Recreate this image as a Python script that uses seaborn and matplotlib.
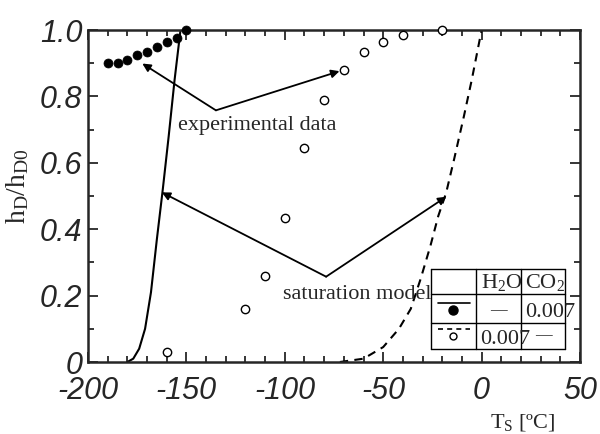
import matplotlib
matplotlib.use("Agg")
import matplotlib.pyplot as plt
import pandas as pd
import seaborn as sns
from matplotlib.ticker import MultipleLocator, FixedLocator, FixedFormatter
from matplotlib.lines import Line2D

# measured dimensionless heat of desublimation vs. surface temperature
t_co2 = [-190, -185, -180, -175, -170, -165, -160, -155, -150]
h_co2 = [0.90, 0.90, 0.91, 0.925, 0.935, 0.95, 0.965, 0.975, 1.0]
t_h2o = [-160, -120, -110, -100, -90, -80, -70, -60, -50, -40, -20]
h_h2o = [0.03, 0.16, 0.26, 0.435, 0.645, 0.79, 0.88, 0.935, 0.965, 0.985, 1.0]

# saturation model curves
t_model_co2 = [-180, -177, -174, -171, -168, -165, -162, -159, -156, -153]
h_model_co2 = [0.0, 0.01, 0.04, 0.10, 0.21, 0.37, 0.52, 0.68, 0.85, 1.0]
t_model_h2o = [-72, -60, -50, -42, -36, -31, -26, -22, -18, -14, -9, -5, 0]
h_model_h2o = [0.0, 0.01, 0.045, 0.10, 0.16, 0.25, 0.35, 0.44, 0.51, 0.61, 0.74, 0.85, 1.0]

x_ticks = [-200, -150, -100, -50, 0, 50]
x_tick_labels = ["-200", "-150", "-100", "-50", "0", "50"]
y_ticks = [0, 0.2, 0.4, 0.6, 0.8, 1.0]
y_tick_labels = ["0", "0.2", "0.4", "0.6", "0.8", "1.0"]

sns.set_style("ticks", {"xtick.direction": "in", "ytick.direction": "in"})
plt.rcParams["font.family"] = ["Liberation Serif", "DejaVu Serif"]
plt.rcParams["mathtext.fontset"] = "custom"
plt.rcParams["mathtext.rm"] = "Liberation Serif"
plt.rcParams["mathtext.it"] = "Liberation Serif:italic"

fig, ax = plt.subplots(figsize=(6.0, 4.34), dpi=100)
fig.subplots_adjust(left=88 / 600, right=580 / 600, bottom=1 - 362 / 434, top=1 - 30 / 434)

df_model_co2 = pd.DataFrame({"T": t_model_co2, "h": h_model_co2})
df_model_h2o = pd.DataFrame({"T": t_model_h2o, "h": h_model_h2o})
df_co2 = pd.DataFrame({"T": t_co2, "h": h_co2})
df_h2o = pd.DataFrame({"T": t_h2o, "h": h_h2o})

sns.lineplot(data=df_model_co2, x="T", y="h", ax=ax, color="black", lw=1.5,
             sort=False, estimator=None)
sns.lineplot(data=df_model_h2o, x="T", y="h", ax=ax, color="black", lw=1.5,
             sort=False, estimator=None, dashes=False, linestyle=(0, (4, 3)))
sns.scatterplot(data=df_co2, x="T", y="h", ax=ax, color="black", s=42,
                edgecolor="black", linewidth=0.5, clip_on=False, zorder=4)
sns.scatterplot(data=df_h2o, x="T", y="h", ax=ax, facecolor="white", s=36,
                edgecolor="black", linewidth=1.0, clip_on=False, zorder=4)

ax.set_xlim(-200, 50)
ax.set_ylim(0, 1)
ax.xaxis.set_major_locator(FixedLocator(x_ticks))
ax.xaxis.set_major_formatter(FixedFormatter(x_tick_labels))
ax.xaxis.set_minor_locator(MultipleLocator(10))
ax.yaxis.set_major_locator(FixedLocator(y_ticks))
ax.yaxis.set_major_formatter(FixedFormatter(y_tick_labels))
ax.yaxis.set_minor_locator(MultipleLocator(0.1))
ax.tick_params(which="both", direction="in", top=True, right=True, width=1.3)
ax.tick_params(which="major", length=7, labelsize=22)
ax.tick_params(axis="x", which="major", pad=10)
ax.tick_params(axis="y", which="major", pad=4)
ax.tick_params(which="minor", length=4)
for lab in ax.get_xticklabels() + ax.get_yticklabels():
    lab.set_fontfamily(["Liberation Sans", "DejaVu Sans"])
    lab.set_fontstyle("italic")
for sp in ax.spines.values():
    sp.set_linewidth(1.8)
    sp.set_visible(True)

ax.set_xlabel(r"T$_\mathrm{S}$ [ºC]", fontsize=16)
ax.xaxis.set_label_coords(0.884, -0.15)
ax.set_ylabel(r"$\mathrm{h_D/h_{D0}}$", fontsize=20, va="center")
ax.yaxis.set_label_coords(-0.143, 0.53)

# annotations
arrow = dict(arrowstyle="-|>", lw=1.3, color="black", mutation_scale=12,
             shrinkA=0, shrinkB=0)
ax.text(-114.2, 0.698, "experimental data", fontsize=16, ha="center", va="baseline")
for head in [(-172.4, 0.899), (-72.2, 0.876)]:
    ax.annotate("", xy=head, xytext=(-135.0, 0.758), arrowprops=arrow)
ax.text(-63.0, 0.191, "saturation model", fontsize=16, ha="center", va="baseline")
for head in [(-162.5, 0.511), (-17.9, 0.498)]:
    ax.annotate("", xy=head, xytext=(-79.0, 0.257), arrowprops=arrow)

# legend drawn as a small table
tr = ax.transAxes
xe = [0.6975, 0.789, 0.881, 0.969]
ye = [0.280, 0.2054, 0.1178, 0.0384]
for x in xe:
    ax.add_line(Line2D([x, x], [ye[0], ye[-1]], transform=tr, color="black", lw=1.0, zorder=5))
for y in ye:
    ax.add_line(Line2D([xe[0], xe[-1]], [y, y], transform=tr, color="black", lw=1.0, zorder=5))
kw = dict(transform=tr, va="baseline", zorder=6)
ax.text(0.798, 0.222, r"H$_2$O", ha="left", fontsize=16, **kw)
ax.text(0.888, 0.222, r"CO$_2$", ha="left", fontsize=16, **kw)
ax.text(0.835, 0.143, "—", ha="center", fontsize=12, **kw)
ax.text(0.888, 0.136, "0.007", ha="left", fontsize=16, **kw)
ax.text(0.796, 0.054, "0.007", ha="left", fontsize=16, **kw)
ax.text(0.925, 0.070, "—", ha="center", fontsize=12, **kw)
ax.add_line(Line2D([0.711, 0.776], [0.179, 0.179], transform=tr, color="black", lw=1.2, zorder=6))
ax.add_line(Line2D([0.742], [0.156], transform=tr, marker="o", ms=6.5, color="black", zorder=6))
ax.add_line(Line2D([0.711, 0.776], [0.0988, 0.0988], transform=tr, color="black", lw=1.2,
                   linestyle=(0, (3, 2.5)), zorder=6))
ax.add_line(Line2D([0.742], [0.0785], transform=tr, marker="o", ms=5, mfc="white",
                   mec="black", mew=1.0, zorder=6))

fig.savefig("out.png", dpi=100)
